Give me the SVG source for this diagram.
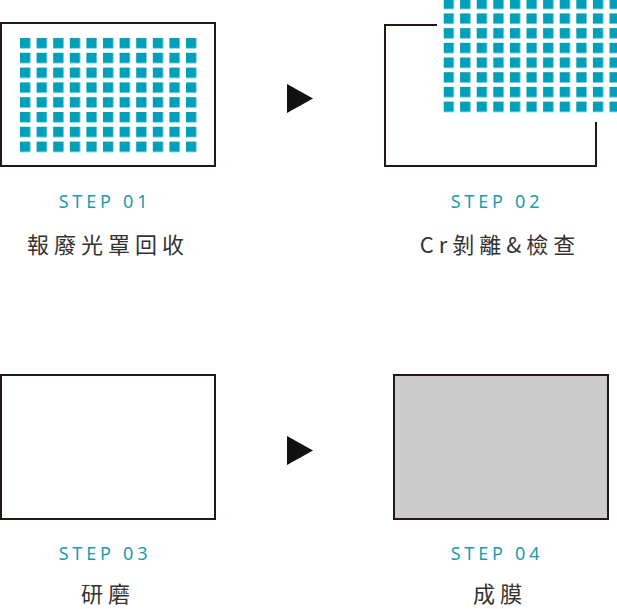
<svg xmlns="http://www.w3.org/2000/svg" width="617" height="609" viewBox="0 0 617 609">
<style>
.sq{fill:#00a0bb}
.box{fill:none;stroke:#231815;stroke-width:2}
.step{font-family:"Noto Sans",sans-serif;font-size:18px;fill:#1a9bb0;letter-spacing:3.8px;text-anchor:middle}
.lbl{font-family:"Noto Sans CJK TC","Noto Sans",sans-serif;font-size:22px;fill:#333;letter-spacing:5px;text-anchor:middle}
.arr{fill:#111}
</style>
<defs>
<pattern id="g1" x="20" y="38" width="16.6" height="14.8" patternUnits="userSpaceOnUse"><rect class="sq" width="10.3" height="10.3"/></pattern>
<pattern id="g2" x="443.5" y="-1.3" width="16.6" height="14.7" patternUnits="userSpaceOnUse"><rect class="sq" width="10.3" height="10.3"/></pattern>
</defs>
<g id="step1">
<rect class="box" x="1" y="23" width="214" height="143"/>
<rect fill="url(#g1)" x="20" y="38" width="177" height="115"/>
<text class="step" x="105" y="208">STEP 01</text>
<text class="lbl" x="108" y="253">報廢光罩回收</text>
</g>
<g id="step2">
<path class="box" d="M437,25H385V166H596V122"/>
<rect fill="url(#g2)" x="443.5" y="0" width="173.5" height="113"/>
<text class="step" x="497" y="208">STEP 02</text>
<text class="lbl" x="500" y="253">Cr剝離&amp;檢查</text>
</g>
<g id="step3">
<rect class="box" x="1" y="375" width="214" height="144"/>
<text class="step" x="105" y="560">STEP 03</text>
<text class="lbl" x="108" y="602">研磨</text>
</g>
<g id="step4">
<rect x="394" y="375" width="214" height="144" fill="#cccccc" stroke="#231815" stroke-width="2"/>
<text class="step" x="497" y="560">STEP 04</text>
<text class="lbl" x="500" y="602">成膜</text>
</g>
<g id="connectors">
<polygon class="arr" points="287,84 313,98.5 287,113"/>
<polygon class="arr" points="287,436 313,450.5 287,465"/>
</g>
</svg>
